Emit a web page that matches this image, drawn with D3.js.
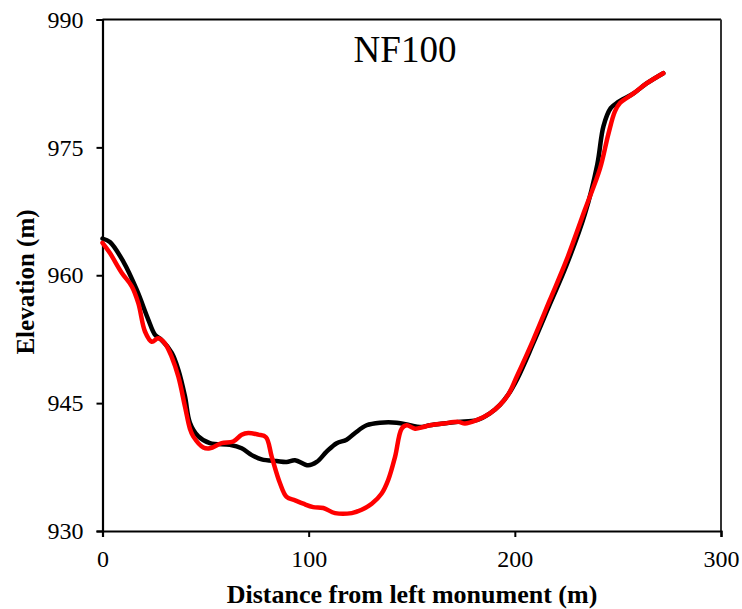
<!DOCTYPE html>
<html><head><meta charset="utf-8">
<script src="https://cdn.jsdelivr.net/npm/d3@7"></script>
<style>body{margin:0;background:#fff}svg{display:block}</style>
</head><body>
<script>
const xTicks = [0, 100, 200, 300];
const yTicks = [930, 945, 960, 975, 990];
const blackX = [0,3.6,10.1,16.6,22.2,25.5,28.7,33.6,36.8,40.0,42.4,46.5,52.1,61.8,67.5,72.4,77.2,84.5,89.3,93.4,99.8,103.9,108.7,113.6,118.4,122.5,128.1,134.6,142.7,149.1,154.0,158.8,165.3,172.6,181.5,187.9,192.8,196.8,201.3,208.9,217.0,225.1,234.0,240.0,243.0,246.5,250.0,257.4,263.9,272.0];
const blackY = [964.3,963.9,961.6,958.3,954.8,953.0,952.4,950.9,948.9,945.8,942.7,941.1,940.3,940.1,939.7,938.9,938.4,938.2,938.1,938.3,937.7,938.1,939.3,940.3,940.7,941.5,942.4,942.7,942.7,942.4,942.2,942.4,942.6,942.8,943.0,943.8,944.8,946.0,947.9,952.0,956.6,961.2,967.2,973.0,977.5,979.6,980.3,981.3,982.5,983.7];
const redX = [0,3.6,9.3,14.2,17.4,20.6,23.9,27.1,30.3,33.6,36.8,40.0,42.4,44.0,48.9,52.1,57.8,63.4,67.5,70.7,75.6,79.3,82.1,86.1,89.3,93.4,97.4,102.2,107.1,112.8,120.9,125.7,130.6,135.4,138.6,141.9,145.1,147.5,151.6,155.6,158.8,165.3,172.6,175.8,181.5,187.9,192.8,196.8,200.9,208.9,217.0,225.1,234.0,241.3,245.3,248.5,251.0,257.4,263.9,272.0];
const redY = [963.8,962.6,960.3,958.7,956.7,953.4,952.2,952.6,952.0,950.4,948.1,944.6,942.0,941.1,939.8,939.7,940.3,940.5,941.3,941.5,941.3,941.0,938.7,935.6,934.0,933.6,933.2,932.8,932.7,932.1,932.1,932.5,933.2,934.4,936.0,938.7,942.0,942.4,942.0,942.2,942.4,942.6,942.8,942.6,943.0,943.8,944.8,946.0,948.1,952.4,957.1,961.8,967.7,972.5,976.5,979.2,980.2,981.3,982.5,983.7];

const W = 742, H = 609;
const svg = d3.select("body").append("svg").attr("width", W).attr("height", H);
const x = d3.scaleLinear().domain([0, 300]).range([102.5, 721]);
const y = d3.scaleLinear().domain([930, 990]).range([531, 19.5]);
const font = "'Liberation Serif','Times New Roman',serif";

// frame (top and right)
svg.append("line").attr("x1", x(0)).attr("x2", x(300)).attr("y1", y(990)).attr("y2", y(990)).attr("stroke", "#000").attr("stroke-width", 2);
svg.append("line").attr("x1", x(300)).attr("x2", x(300)).attr("y1", y(990)).attr("y2", y(930)).attr("stroke", "#333").attr("stroke-width", 2);

const xAxis = svg.append("g").attr("transform", `translate(0,${y(930)})`)
  .call(d3.axisBottom(x).tickValues(xTicks).tickSize(6).tickPadding(13).tickFormat(d3.format("d")));
const yAxis = svg.append("g").attr("transform", `translate(${x(0)},0)`)
  .call(d3.axisLeft(y).tickValues(yTicks).tickSize(6).tickPadding(13).tickFormat(d3.format("d")));
[xAxis, yAxis].forEach(g => {
  g.select(".domain").attr("stroke", "#000").attr("stroke-width", 2.2);
  g.selectAll(".tick line").attr("stroke", "#000").attr("stroke-width", 2);
  g.selectAll("text").attr("font-family", font).attr("font-size", 24).attr("fill", "#000");
});

const line = d3.line().x(d => x(d[0])).y(d => y(d[1])).curve(d3.curveCatmullRom.alpha(0.5));
const blackData = blackX.map((v, i) => [v, blackY[i]]);
const redData = redX.map((v, i) => [v, redY[i]]);
svg.append("path").datum(blackData).attr("d", line).attr("fill", "none").attr("stroke", "#000").attr("stroke-width", 4.5).attr("stroke-linejoin", "round").attr("stroke-linecap", "round");
svg.append("path").datum(redData).attr("d", line).attr("fill", "none").attr("stroke", "#ff0000").attr("stroke-width", 4.5).attr("stroke-linejoin", "round").attr("stroke-linecap", "round");

svg.append("text").attr("x", 405).attr("y", 62).attr("text-anchor", "middle").attr("font-family", font).attr("font-size", 37).text("NF100");
svg.append("text").attr("x", 412).attr("y", 603).attr("text-anchor", "middle").attr("font-family", font).attr("font-size", 26).attr("font-weight", "bold").text("Distance from left monument (m)");
svg.append("text").attr("transform", "translate(34,282) rotate(-90)").attr("text-anchor", "middle").attr("font-family", font).attr("font-size", 25).attr("font-weight", "bold").text("Elevation (m)");
</script>
</body></html>
